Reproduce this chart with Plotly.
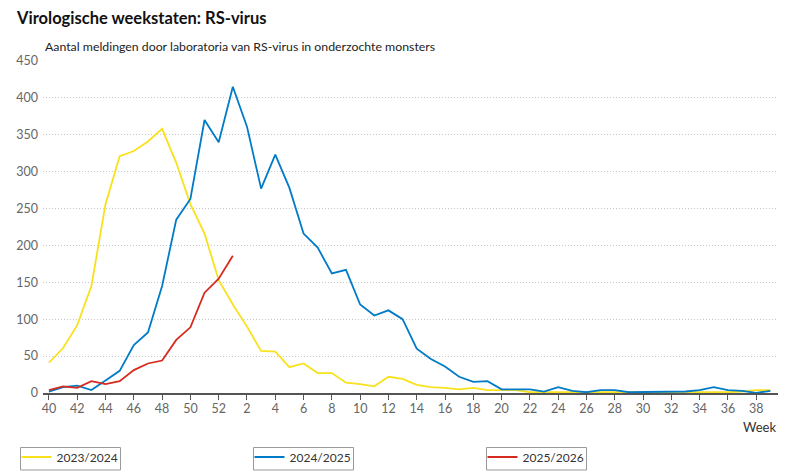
import plotly.graph_objects as go

# %% data
weeks = [str(w) for w in list(range(40, 53)) + list(range(1, 40))]
tick_weeks = weeks[::2]

rsv_2023_2024 = [41, 61, 92, 145, 256, 321, 328, 341, 358, 312, 256, 216, 153,
                 120, 90, 57, 56, 35, 40, 27, 27, 14, 12, 9, 22, 19, 11, 8, 7, 5,
                 7, 4, 4, 4, 1, 1, 1, 1, 1, 1, 1, 0, 0, 0, 1, 1, 1, 1, 1, 2, 4, 4]
rsv_2024_2025 = [2, 8, 10, 4, 17, 30, 65, 82, 145, 235, 263, 370, 340,
                 415, 361, 277, 323, 278, 216, 197, 162, 167, 120, 105, 112, 100, 60, 46, 36, 22,
                 15, 16, 5, 5, 5, 2, 8, 3, 1, 4, 4, 1, 1, 1, 2, 2, 4, 8, 4, 3, 0, 3]
rsv_2025_2026 = [4, 9, 7, 16, 12, 16, 31, 40, 44, 72, 89, 136, 155, 186]

seasons = ['2023/2024', '2024/2025', '2025/2026']
colors = ['#f9e11e', '#007bc7', '#d52b1e']
series = [rsv_2023_2024, rsv_2024_2025, rsv_2025_2026]

font_family = 'Lato, "Noto Sans", sans-serif'

# the page body has an 8px margin, so positions below are reference px minus 8
OFF = 8
W, H = 798, 474
L, R, T, B = 35, 28, 53, 89
pw, ph = W - L - R, H - T - B


def paper_y(y):
    # reference pixel row -> paper y
    return (H - B - (y - OFF)) / ph


def cont_x(x):
    return (x - OFF) / W


def cont_y(y):
    return 1 - (y - OFF) / H


# %% figure
fig = go.Figure()
legend_names = ['legend', 'legend2', 'legend3']
for name, col, vals, lg in zip(seasons, colors, series, legend_names):
    fig.add_trace(go.Scatter(x=weeks[:len(vals)], y=vals, name=name, mode='lines',
                             line=dict(color=col, width=1.8), legend=lg))

# one legend per season, the boxes around them are drawn as shapes
box_left = [20.5, 253.5, 486.5]
box_w = 100
legend_style = dict(orientation='h', xref='container', yref='container',
                    yanchor='top', y=cont_y(442.5), xanchor='left',
                    bgcolor='rgba(0,0,0,0)', borderwidth=0,
                    font=dict(size=12, color='#333333', family=font_family),
                    itemwidth=30)

fig.update_layout(
    width=W, height=H,
    showlegend=True,  # main legend holds only one trace, so force it on
    margin=dict(l=L, r=R, t=T, b=B, autoexpand=False),
    plot_bgcolor='white', paper_bgcolor='white',
    font=dict(family=font_family, size=13, color='#333333'),
    title=dict(text='<b>Virologische weekstaten: RS-virus</b>', x=cont_x(17), xanchor='left',
               xref='container', y=cont_y(17.8), yref='container', yanchor='middle',
               font=dict(size=16.5, color='#111111', family=font_family)),
    legend=dict(legend_style, x=cont_x(box_left[0] - 4)),
    legend2=dict(legend_style, x=cont_x(box_left[1] - 4)),
    legend3=dict(legend_style, x=cont_x(box_left[2] - 4)),
    xaxis=dict(type='category', categoryorder='array', categoryarray=weeks,
               range=[-0.42, 51.54], tickmode='array', tickvals=tick_weeks,
               ticktext=tick_weeks, showgrid=False, showline=True,
               linecolor='#555555', linewidth=1.5, ticks='outside', ticklen=5,
               tickcolor='#555555', ticklabelstandoff=-2,
               tickfont=dict(size=12.5, color='#666666')),
    yaxis=dict(range=[0, 450], dtick=50, showgrid=True, gridcolor='#c8c8c8',
               griddash='1px,2px', gridwidth=1, zeroline=False, showline=False,
               ticks='', ticklabelstandoff=4,
               tickfont=dict(size=12.5, color='#666666')),
    hovermode='x unified',
)

for bl in box_left:
    fig.add_shape(type='rect', xref='paper', yref='paper',
                  x0=(bl - OFF - L) / pw, x1=(bl + box_w - OFF - L) / pw,
                  y0=paper_y(447.5), y1=paper_y(470),
                  line=dict(color='#9a9a9a', width=1), fillcolor='rgba(0,0,0,0)')

fig.add_annotation(text='Aantal meldingen door laboratoria van RS-virus in onderzochte monsters',
                   xref='paper', yref='paper', x=0, y=paper_y(46.5), xanchor='left', yanchor='middle',
                   showarrow=False, font=dict(size=12.3, color='#222222'))
fig.add_annotation(text='Week', xref='paper', yref='paper', x=1, y=paper_y(426.5), xanchor='right',
                   yanchor='middle', showarrow=False, font=dict(size=13, color='#333333'))

fig.write_html("out.html")
